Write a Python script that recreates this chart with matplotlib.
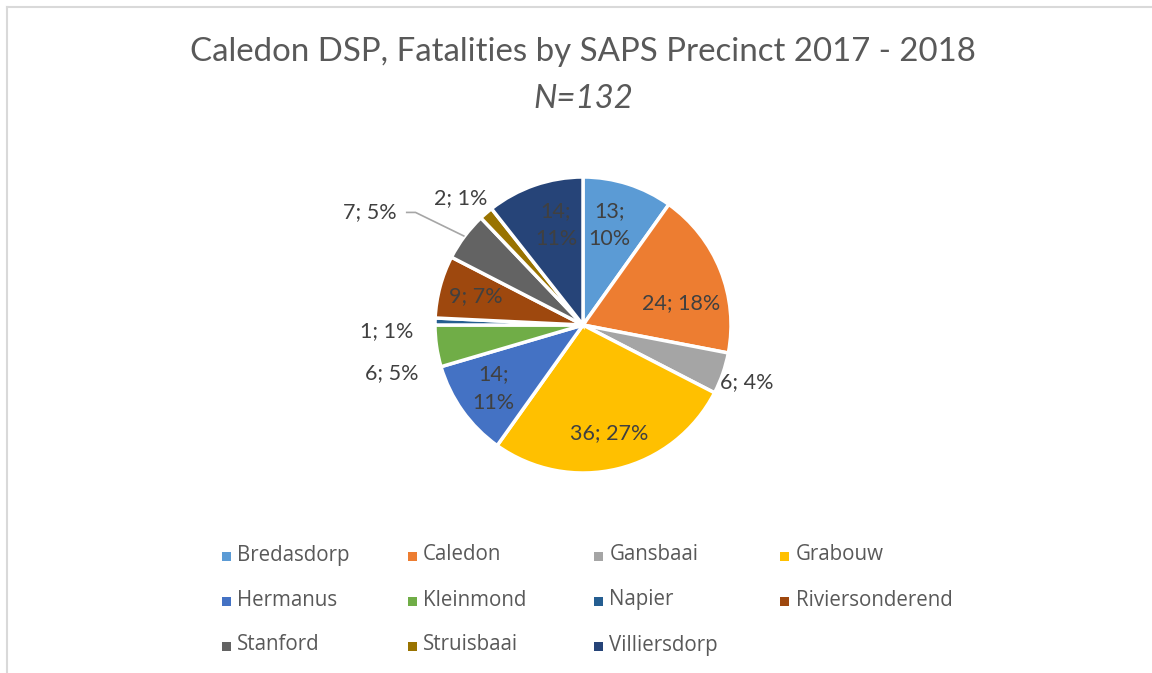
import numpy as np
import matplotlib
matplotlib.use('Agg')
import matplotlib.pyplot as plt
from matplotlib.patches import Rectangle
from matplotlib.lines import Line2D

precincts = ['Bredasdorp', 'Caledon', 'Gansbaai', 'Grabouw', 'Hermanus', 'Kleinmond',
             'Napier', 'Riviersonderend', 'Stanford', 'Struisbaai', 'Villiersdorp']
fatalities = [13, 24, 6, 36, 14, 6, 1, 9, 7, 2, 14]
pct_labels = ['10%', '18%', '4%', '27%', '11%', '5%', '1%', '7%', '5%', '1%', '11%']
colors = ['#5B9BD5', '#ED7D31', '#A5A5A5', '#FFC000', '#4472C4', '#70AD47',
          '#255E91', '#9E480E', '#636363', '#997300', '#264478']

# label placement: radial factor, angle tweak, and whether label wraps onto two lines
label_r = [0.70, 0.68, 1.17, 0.75, 0.74, 1.33, 1.33, 0.75, 1.63, 1.19, 0.70]
label_wrap = [True, False, False, False, True, False, False, False, False, False, True]
label_dang = [-3, 9, 0, 0, 0, -6, -3, 0, -9, -3, 4]

plt.rcParams['font.family'] = ['Lato', 'DejaVu Sans']

W, H = 1152, 673
fig = plt.figure(figsize=(W / 100, H / 100), dpi=100)

cx, cy, R = 583, H - 325, 148
ax = fig.add_axes([(cx - 2 * R) / W, (cy - 2 * R) / H, 4 * R / W, 4 * R / H])

wedges, _ = ax.pie(fatalities, colors=colors, startangle=90, counterclock=False,
                   radius=1.0, wedgeprops=dict(edgecolor='white', linewidth=2.5))
ax.set_xlim(-2, 2)
ax.set_ylim(-2, 2)
ax.set_aspect('auto')
ax.axis('off')

total = sum(fatalities)
cum = np.cumsum([0] + fatalities)
for i, v in enumerate(fatalities):
    mid = (cum[i] + v / 2) / total * 360 + label_dang[i]
    th = np.deg2rad(mid)
    x, y = label_r[i] * np.sin(th), label_r[i] * np.cos(th)
    sep = '\n' if label_wrap[i] else ' '
    txt = f'{v};{sep}{pct_labels[i]}'
    ax.text(x, y, txt, ha='center', va='center', fontsize=15.5, color='#404040',
            linespacing=1.5)
    if precincts[i] == 'Stanford':
        mth = np.deg2rad((cum[i] + v / 2) / total * 360)
        ex, ey = np.sin(mth), np.cos(mth)
        ax.plot([x + 0.245, x + 0.31, ex], [y, y, ey], color='#A6A6A6', lw=1.2,
                solid_capstyle='butt')

fig.text(583 / W, 1 - 52 / H, 'Caledon DSP, Fatalities by SAPS Precinct 2017 - 2018',
         ha='center', va='center', fontsize=23.8, color='#595959')
fig.text(583 / W, 1 - 99 / H, 'N=132', ha='center', va='center', fontsize=23.8,
         color='#595959', style='italic')

# legend grid
for i, name in enumerate(precincts):
    col, row = i % 4, i // 4
    lx = 226 + col * 186.2
    ly = 556 + row * 45
    fig.add_artist(Rectangle(((lx - 4.5) / W, 1 - (ly + 4.5) / H), 9 / W, 9 / H,
                             transform=fig.transFigure, facecolor=colors[i], edgecolor='none'))
    fig.text((lx + 11) / W, 1 - (ly - 1) / H, name, ha='left', va='center', fontsize=14.8,
             color='#595959', family=['Open Sans', 'DejaVu Sans'])

# chart border
fig.add_artist(Line2D([6.5 / W, 6.5 / W], [0, 1 - 7 / H], transform=fig.transFigure,
                      color='#D9D9D9', lw=1.5))
fig.add_artist(Line2D([6.5 / W, 1], [1 - 7 / H, 1 - 7 / H], transform=fig.transFigure,
                      color='#D9D9D9', lw=1.5))

fig.savefig('out.png', dpi=100, facecolor='white')
